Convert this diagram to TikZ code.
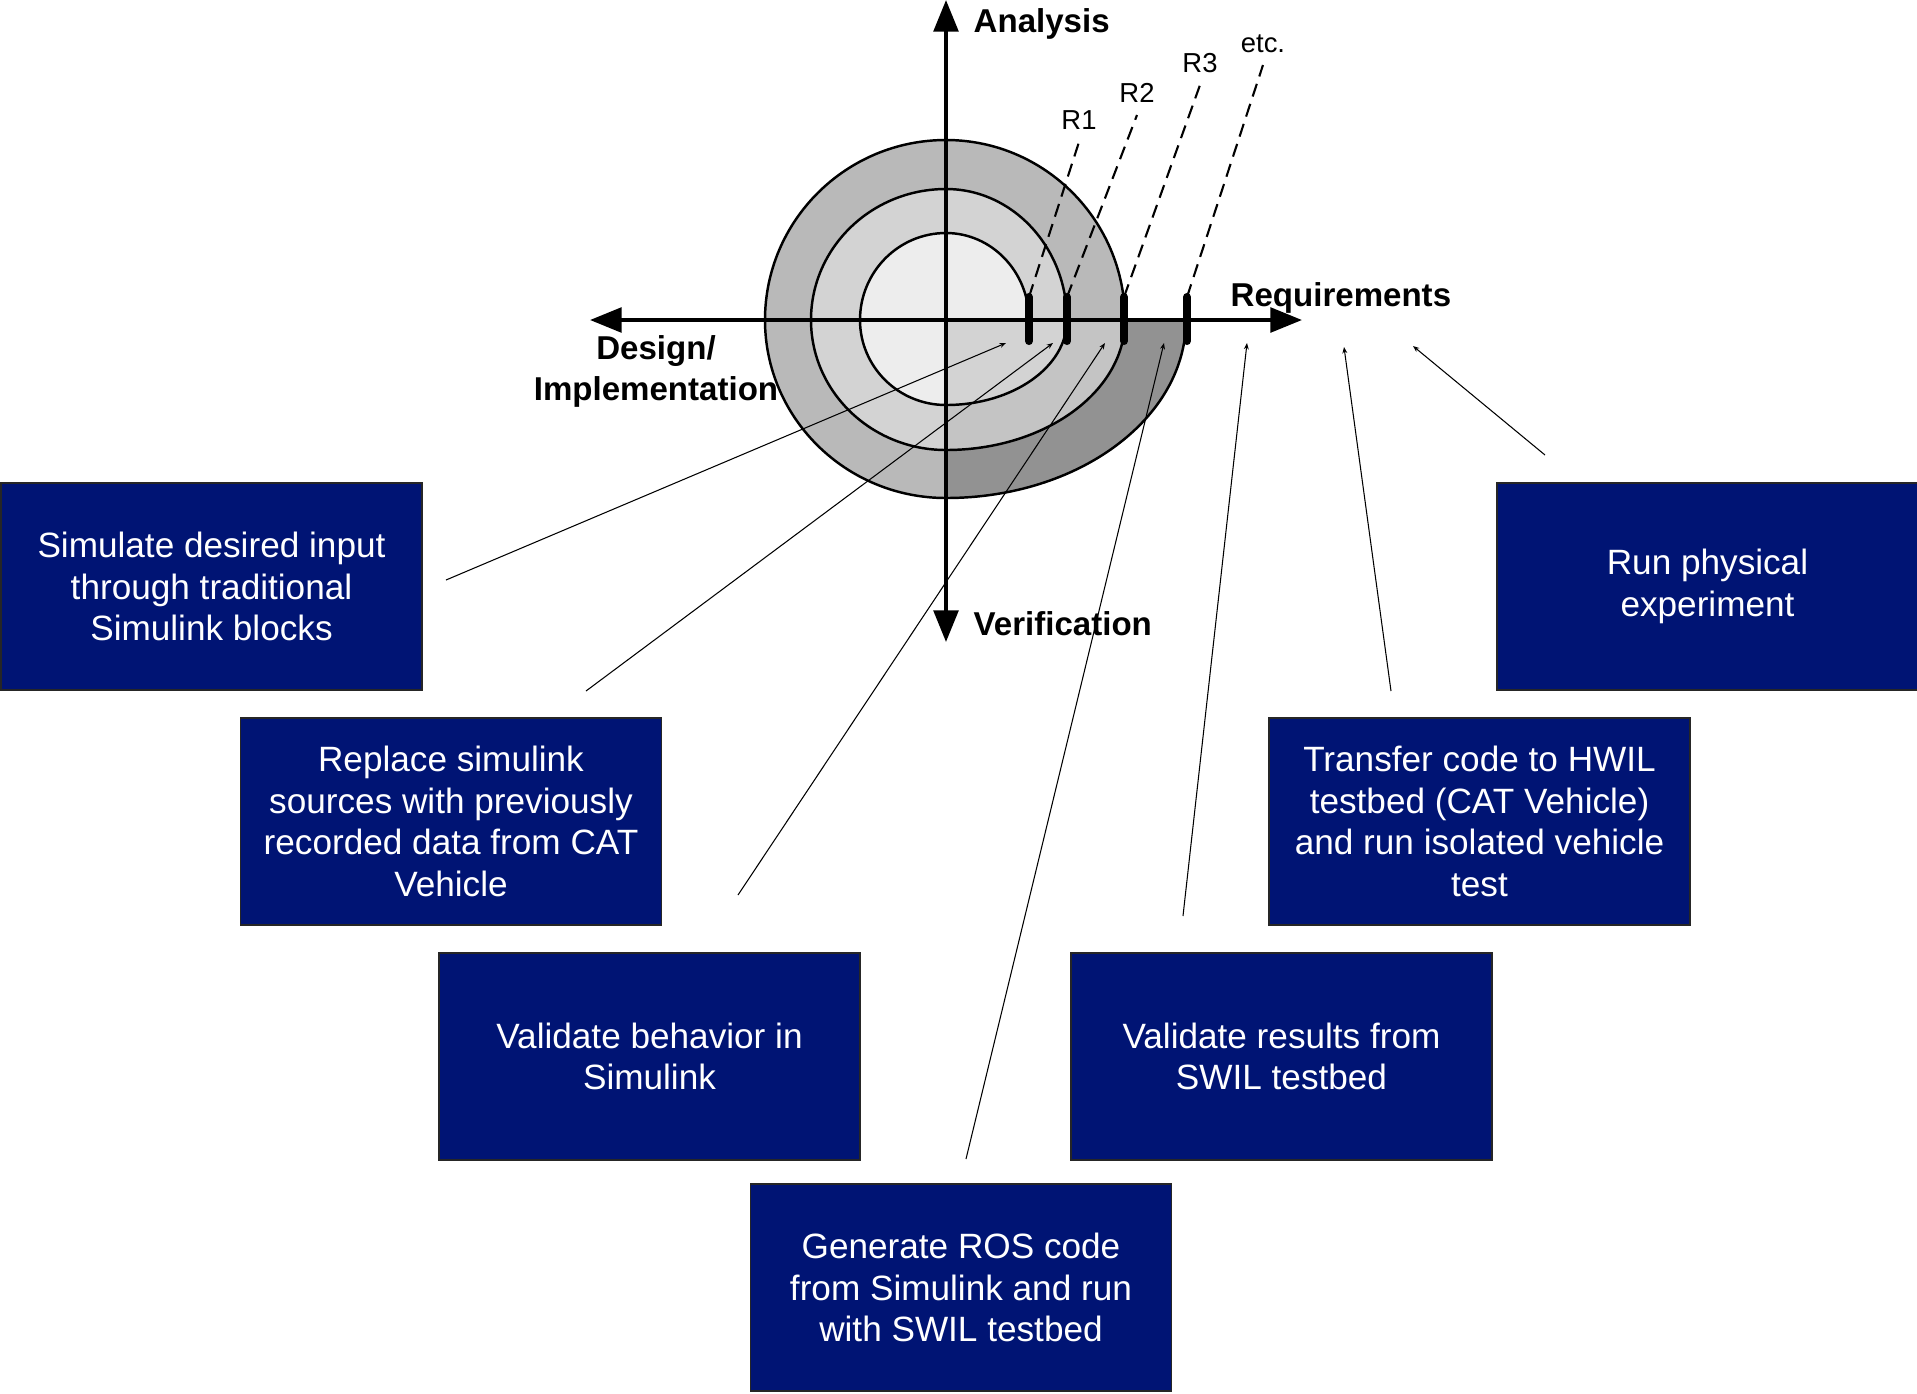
\documentclass[tikz,border=0pt]{standalone}
\usepackage{fontspec}
\setmainfont{Liberation Sans}
\usetikzlibrary{arrows.meta, positioning}
\definecolor{taskblue}{RGB}{0,20,116}
\definecolor{ringA}{RGB}{237,237,237}
\definecolor{ringB}{RGB}{211,211,211}
\definecolor{ringC}{RGB}{196,196,196}
\definecolor{ringD}{RGB}{185,185,185}
\definecolor{ringE}{RGB}{146,146,146}

\begin{document}
\begin{tikzpicture}[x=0.01cm, y=0.01cm,
    task/.style={draw=black!85, line width=0.4pt, fill=taskblue, text=white, minimum width=4.21cm, minimum height=2.07cm, inner sep=0pt, align=center, font=\fontsize{10}{11.8}\selectfont},
    axis/.style={line width=1.1pt, {Triangle[length=9pt,width=7pt]}-{Triangle[length=9pt,width=7pt]}},
    axislabel/.style={inner sep=0pt, font=\fontsize{9.4}{11.4}\selectfont\bfseries},
    rlabel/.style={anchor=south, font=\fontsize{7.8}{9}\selectfont},
    rtick/.style={line width=2.3pt, line cap=round},
    rdash/.style={line width=0.6pt, dash pattern=on 3.8pt off 2.2pt},
    pointer/.style={line width=0.3pt, -{Stealth[length=1.8pt,width=1.4pt]}},
    turn/.style={line width=0.7pt}]
    \useasboundingbox (0,0) rectangle (1917,-1393);
    \coordinate (O) at (946,-320);
    \coordinate (axW) at (590,-320);
    \coordinate (axE) at (1302,-320);
    \coordinate (axN) at (946,0);
    \coordinate (axS) at (946,-642);
    \fill[ringD] (1125,-320) arc[start angle=0,end angle=90,x radius=179,y radius=180]
        arc[start angle=90,end angle=180,x radius=181,y radius=180]
        arc[start angle=180,end angle=270,x radius=181,y radius=178]
        arc[start angle=270,end angle=360,x radius=240,y radius=178] -- cycle;
    \fill[ringE] (O) -- (946,-498) arc[start angle=270,end angle=360,x radius=240,y radius=178] -- cycle;
    \fill[ringB] (1067,-320) arc[start angle=0,end angle=90,x radius=121,y radius=131]
        arc[start angle=90,end angle=180,x radius=135,y radius=131]
        arc[start angle=180,end angle=270,x radius=135,y radius=130]
        arc[start angle=270,end angle=360,x radius=179,y radius=130] -- cycle;
    \fill[ringC] (O) -- (946,-450) arc[start angle=270,end angle=360,x radius=179,y radius=130] -- cycle;
    \fill[ringA] (1029,-320) arc[start angle=0,end angle=90,x radius=83,y radius=87]
        arc[start angle=90,end angle=180,x radius=86,y radius=87]
        arc[start angle=180,end angle=270,x radius=86,y radius=85]
        arc[start angle=270,end angle=360,x radius=121,y radius=85] -- cycle;
    \fill[ringB] (O) -- (946,-405) arc[start angle=270,end angle=360,x radius=121,y radius=85] -- cycle;
    \draw[turn] (1029,-320) arc[start angle=0,end angle=90,x radius=83,y radius=87]
        arc[start angle=90,end angle=180,x radius=86,y radius=87]
        arc[start angle=180,end angle=270,x radius=86,y radius=85]
        arc[start angle=270,end angle=360,x radius=121,y radius=85]
        arc[start angle=0,end angle=90,x radius=121,y radius=131]
        arc[start angle=90,end angle=180,x radius=135,y radius=131]
        arc[start angle=180,end angle=270,x radius=135,y radius=130]
        arc[start angle=270,end angle=360,x radius=179,y radius=130]
        arc[start angle=0,end angle=90,x radius=179,y radius=180]
        arc[start angle=90,end angle=180,x radius=181,y radius=180]
        arc[start angle=180,end angle=270,x radius=181,y radius=178]
        arc[start angle=270,end angle=360,x radius=240,y radius=178];
    \draw[axis] (axW) -- (axE);
    \draw[axis] (axS) -- (axN);
    \node[axislabel, anchor=base west] (analysis) at (973,-32) {Analysis};
    \node[axislabel, anchor=base west] (verification) at (973,-635) {Verification};
    \node[axislabel, anchor=base west] (requirements) at (1230,-306) {Requirements};
    \node[axislabel, anchor=base, align=center] (design) at (656,-400) {Design/\\Implementation};
    \coordinate (t1) at (1029,-297);
    \coordinate (t2) at (1067,-297);
    \coordinate (t3) at (1124,-297);
    \coordinate (t4) at (1187,-297);
    \draw[rtick] (t1) -- ++(0,-44);
    \draw[rtick] (t2) -- ++(0,-44);
    \draw[rtick] (t3) -- ++(0,-44);
    \draw[rtick] (t4) -- ++(0,-44);
    \node[rlabel] (r1) at (1079,-142) {R1};
    \node[rlabel] (r2) at (1137,-115) {R2};
    \node[rlabel] (r3) at (1200,-85) {R3};
    \node[rlabel] (rn) at (1263,-65) {etc.};
    \draw[rdash] (t1) -- (r1.south);
    \draw[rdash] (t2) -- (r2.south);
    \draw[rdash] (t3) -- (r3.south);
    \draw[rdash] (t4) -- (rn.south);
    \node[task] (simulate) at (211.5,-586.5) {Simulate desired input\\through traditional\\Simulink blocks};
    \node[task] (replace) at (451,-821.5) {Replace simulink\\sources with previously\\recorded data from CAT\\Vehicle};
    \node[task] (validsim) at (649.5,-1056.5) {Validate behavior in\\Simulink};
    \node[task] (generate) at (961,-1287.5) {Generate ROS code\\from Simulink and run\\with SWIL testbed};
    \node[task] (validswil) at (1281.5,-1056.5) {Validate results from\\SWIL testbed};
    \node[task] (transfer) at (1479.5,-821.5) {Transfer code to HWIL\\testbed (CAT Vehicle)\\and run isolated vehicle\\test};
    \node[task] (physical) at (1707.5,-586.5) {Run physical\\experiment};
    \coordinate (p1) at (446,-580);
    \coordinate (p2) at (586,-691);
    \coordinate (p3) at (738,-895);
    \coordinate (p4) at (966,-1159);
    \coordinate (p5) at (1183,-916);
    \coordinate (p6) at (1391,-691);
    \coordinate (p7) at (1545,-455);
    \coordinate (q1) at (1006,-343);
    \coordinate (q2) at (1053,-343);
    \coordinate (q3) at (1105,-343);
    \coordinate (q4) at (1164,-343);
    \coordinate (q5) at (1247,-343);
    \coordinate (q6) at (1344,-347);
    \coordinate (q7) at (1413,-346);
    \draw[pointer] (p1) -- (q1);
    \draw[pointer] (p2) -- (q2);
    \draw[pointer] (p3) -- (q3);
    \draw[pointer] (p4) -- (q4);
    \draw[pointer] (p5) -- (q5);
    \draw[pointer] (p6) -- (q6);
    \draw[pointer] (p7) -- (q7);
\end{tikzpicture}
\end{document}
